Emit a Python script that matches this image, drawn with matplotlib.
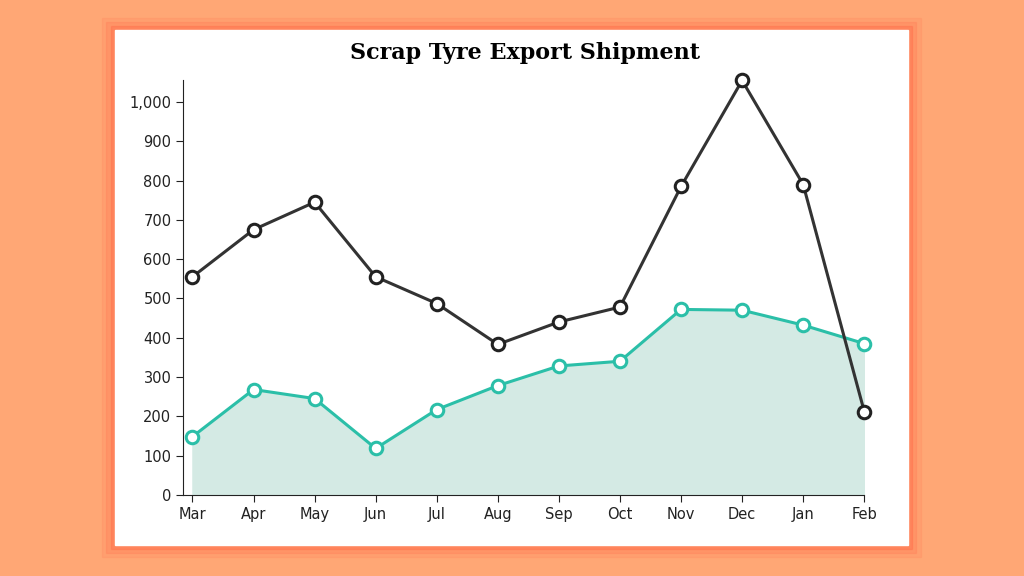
import matplotlib
matplotlib.use("Agg")
import matplotlib.pyplot as plt
from matplotlib.patches import Rectangle

months = ["Mar", "Apr", "May", "Jun", "Jul", "Aug", "Sep", "Oct", "Nov", "Dec", "Jan", "Feb"]
dark_series = [555, 675, 745, 555, 487, 383, 440, 478, 785, 1055, 790, 212]
teal_series = [148, 268, 245, 118, 217, 278, 328, 340, 472, 470, 432, 385]
y_ticks = [0, 100, 200, 300, 400, 500, 600, 700, 800, 900, 1000]

fig = plt.figure(figsize=(10.24, 5.76), dpi=100)
fig.patch.set_facecolor("#ffa775")

# glow + white card
for i, a in enumerate([0.10, 0.15, 0.25]):
    pad = (3 - i) * 0.004
    fig.patches.append(Rectangle((0.112 - pad, 0.054 - pad * 1.8), 0.775 + 2 * pad, 0.894 + pad * 3.6,
                                 transform=fig.transFigure, color="#ff5a3c", alpha=a, zorder=0))
fig.patches.append(Rectangle((0.112, 0.054), 0.775, 0.894, transform=fig.transFigure,
                             color="white", zorder=1))

ax = fig.add_axes([0.179, 0.141, 0.665, 0.72])
ax.set_zorder(10)
ax.set_facecolor("none")
x = list(range(len(months)))

ax.fill_between(x, teal_series, 0, color="#d4eae4", zorder=1)
ax.plot(x, teal_series, color="#2bbfa8", lw=2.2, marker="o", ms=9, mfc="white",
        mec="#2bbfa8", mew=2.2, zorder=3, clip_on=False)
ax.plot(x, dark_series, color="#333333", lw=2.2, marker="o", ms=9, mfc="white",
        mec="#222222", mew=2.2, zorder=4, clip_on=False)

ax.set_xlim(-0.15, 11)
ax.set_ylim(0, 1056)
ax.set_xticks(x)
ax.set_xticklabels(months)
ax.set_yticks(y_ticks)
ax.set_yticklabels([f"{v:,}" for v in y_ticks])
ax.tick_params(labelsize=10.5, colors="#222222", length=5)
for s in ["top", "right"]:
    ax.spines[s].set_visible(False)
ax.spines["left"].set_color("#222222")
ax.spines["bottom"].set_color("#222222")

fig.text(0.513, 0.908, "Scrap Tyre Export Shipment", ha="center", va="center",
         fontsize=16, fontweight="bold", family="DejaVu Serif", zorder=20)

fig.savefig("out.png", dpi=100, facecolor=fig.get_facecolor())
